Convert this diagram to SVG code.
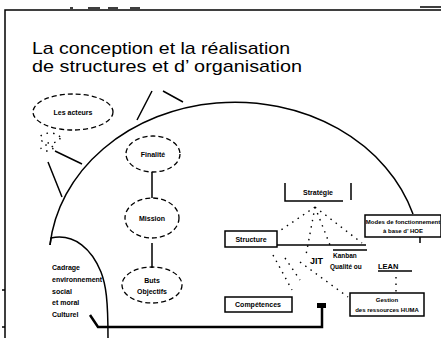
<svg xmlns="http://www.w3.org/2000/svg" width="441" height="338" viewBox="0 0 441 338">
<style>
.t{font-family:"Liberation Sans",Arial,sans-serif;fill:#000}
.s{font-size:7px;font-weight:bold}
.ln{stroke:#000;fill:none;stroke-width:1.5}
.da{stroke:#000;fill:none;stroke-width:1.3;stroke-dasharray:5 3}
.dot{stroke:#000;fill:none;stroke-width:1.4;stroke-dasharray:1.5 5}
.box{stroke:#000;fill:#fff;stroke-width:1.5}
</style>
<rect width="441" height="338" fill="#fff"/>
<g id="frame">
<path class="ln" d="M5,338 V10 H441"/>
<path class="ln" d="M70,8 h3 M88,8 h12 M108,8 h10 M130,8 h10 M420,7 h21" stroke-width="1"/>
<path class="ln" d="M2,290 h3 M2,327 h3" stroke-width="1"/>
</g>
<g id="title">
<text class="t" x="32" y="54" font-size="17" textLength="258" lengthAdjust="spacingAndGlyphs">La conception et la réalisation</text>
<text class="t" x="32" y="72" font-size="17" textLength="270" lengthAdjust="spacingAndGlyphs">de structures et d’ organisation</text>
</g>
<g id="connectors">
<path class="ln" d="M50,245 A186,158 0 0 1 413,214" stroke-width="1.8"/>
<path class="ln" d="M50,245 L51,238 C75,233 92,250 101,272 C106,285 108,300 108,338" stroke-width="1.8"/>
<path class="ln" d="M137,120 L152,91 M183,102 L163,91 M82,164 L55,151 M62,197 L48,162"/>
<path class="ln" d="M152,172 V198 M152,243 V268"/>
<path d="M90,315 L98,327 H322 V307" stroke="#000" stroke-width="2.5" fill="none"/>
<rect x="317" y="303" width="9" height="5" fill="#000"/>
<path class="ln" d="M277,245 H366"/>
<path class="ln" d="M333,250 H367" stroke-width="1"/>
<path class="ln" d="M420,237 V243" stroke-width="1.5"/>
<path class="dot" d="M315,207 L278,232 M315,207 L306,255 M315,207 L330,245 M315,207 L362,243"/>
<path class="dot" d="M273,255 L292,290 M300,262 L348,297 M285,258 L300,280 M396,277 V292"/>
</g>
<g id="acteurs">
<ellipse class="da" cx="73" cy="112" rx="40" ry="18"/>
<ellipse class="dot" cx="50" cy="138" rx="10" ry="5"/>
<ellipse class="dot" cx="47" cy="148" rx="6" ry="3"/>
<text class="t s" x="73" y="115" text-anchor="middle">Les acteurs</text>
</g>
<g id="finalite">
<ellipse class="da" cx="153" cy="154" rx="27" ry="18"/>
<text class="t s" x="153" y="157" text-anchor="middle">Finalité</text>
</g>
<g id="mission">
<ellipse class="da" cx="152" cy="218" rx="27" ry="20"/>
<text class="t s" x="152" y="221" text-anchor="middle">Mission</text>
</g>
<g id="objectifs">
<ellipse class="da" cx="152" cy="285" rx="30" ry="18"/>
<text class="t s" x="152" y="283" text-anchor="middle">Buts</text>
<text class="t s" x="152" y="294" text-anchor="middle">Objectifs</text>
</g>
<g id="cadrage">
<text class="t s" x="52" y="270">Cadrage</text>
<text class="t s" x="52" y="282">environnement</text>
<text class="t s" x="52" y="294">social</text>
<text class="t s" x="52" y="305">et moral</text>
<text class="t s" x="52" y="317">Culturel</text>
</g>
<g id="strategie">
<path class="ln" d="M285,183 V201 H343 M351,183 V200"/>
<text class="t s" x="318" y="195" text-anchor="middle">Stratégie</text>
</g>
<g id="structure">
<rect class="box" x="225" y="231" width="52" height="16"/>
<text class="t s" x="251" y="242" text-anchor="middle">Structure</text>
</g>
<g id="modes">
<rect class="box" x="365" y="215" width="76" height="22"/>
<text class="t" font-size="6" font-weight="bold" x="403" y="224" text-anchor="middle">Modes de fonctionnement</text>
<text class="t" font-size="6" font-weight="bold" x="403" y="233" text-anchor="middle">à base d’ HOE</text>
</g>
<g id="competences">
<rect class="box" x="225" y="297" width="67" height="15"/>
<text class="t s" x="258" y="307" text-anchor="middle">Compétences</text>
</g>
<g id="gestion">
<rect class="box" x="350" y="293" width="74" height="23"/>
<text class="t" font-size="6" font-weight="bold" x="387" y="302" text-anchor="middle">Gestion</text>
<text class="t" font-size="6" font-weight="bold" x="387" y="312" text-anchor="middle">des ressources HUMA</text>
</g>
<g id="methodes">
<text class="t" font-size="9" font-weight="bold" x="310" y="264">JIT</text>
<text class="t" font-size="6.5" font-weight="bold" x="333" y="258">Kanban</text>
<text class="t" font-size="6.5" font-weight="bold" x="330" y="269">Qualité ou</text>
<text class="t" font-size="7.5" font-weight="bold" x="378" y="269">LEAN</text>
<path class="ln" d="M378,271 H412" stroke-width="1"/>
</g>
</svg>
